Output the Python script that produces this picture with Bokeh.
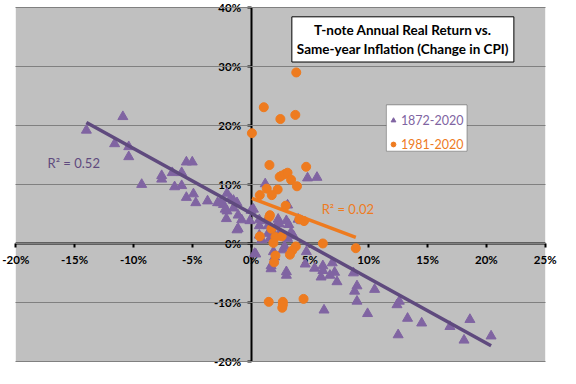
from bokeh.plotting import figure
from bokeh.models import (Range1d, Label, Legend, LegendItem, FixedTicker,
                          PrintfTickFormatter, BoxAnnotation)
from bokeh.embed import file_html
from bokeh.resources import INLINE

# ---------------- data (percent) ----------------
x_1872 = [-14.0, -10.9, -11.6, -10.4, -10.4, -9.3, -7.6, -7.6, -6.7, -5.9,
          -6.5, -5.9, -5.5, -5.0, -5.5, -4.9, -4.7, -3.7, -2.85, -2.35,
          -2.2, -2.05, -2.1, -2.05, -1.75, -1.5, -1.2, -1.2, -0.8, -0.1,
          0.0, 0.3, 0.7, 0.7, 0.7, 0.9, 1.2, 1.3, 1.45, 1.45,
          1.6, 1.7, 1.7, 1.9, 2.0, 2.3, 2.4, 2.4, 2.7, 2.85,
          3.0, 3.2, 3.1, 3.0, 3.0, 3.1, 3.4, 4.0, 4.3, 4.7,
          4.6, 4.8, 5.6, 5.4, 6.1, 6.1, 5.95, 6.7, 6.9, 7.1,
          7.3, 6.2, 8.7, 9.0, 8.8, 9.0, 9.9, 10.5, 12.4, 12.6,
          12.5, 13.3, 14.5, 16.9, 18.1, 18.6, 20.4, 2.0, 0.4, -1.1,
          -1.1, -2.6, -1.5, 0.2, 2.1, 3.6]
y_1872 = [19.2, 21.5, 16.9, 16.4, 14.7, 10.0, 11.5, 10.9, 12.0, 12.0,
          9.6, 9.8, 13.8, 13.8, 7.8, 8.4, 6.9, 7.2, 6.9, 6.6,
          5.8, 5.5, 4.2, 8.5, 7.6, 6.0, 6.9, 2.3, 4.0, 3.85,
          5.6, -1.7, 4.0, 3.0, 1.4, 0.6, 10.1, 3.85, 3.0, 1.7,
          0.85, -3.8, -4.3, -1.4, 1.4, 4.1, 3.3, 1.7, -1.1, -0.5,
          3.85, 3.2, 6.5, -4.8, -5.4, 0.85, 1.9, 4.1, 3.85, -1.4,
          -3.5, 11.1, 11.2, -4.2, -3.8, -4.6, -5.7, -5.4, -3.3, -4.9,
          -6.5, -11.3, -5.0, -7.2, -8.1, -9.8, -11.9, -7.8, -10.4, -9.8,
          -15.5, -12.7, -13.5, -14.1, -16.4, -12.9, -15.7, -2.3, -1.8, 4.8,
          2.5, 6.9, 7.3, 5.8, 2.8, 1.3]

x_1981 = [1.08, 2.49, 3.76, 0.07, 3.84, 1.56, 4.68, 2.43, 2.6, 2.9,
          3.1, 3.4, 3.9, 1.33, 2.26, 1.76, 0.74, 2.94, 1.6, 1.55,
          4.1, 4.5, 1.73, 0.74, 2.07, 2.6, 1.9, 6.1, 8.9, 3.8,
          3.5, 3.3, 2.07, 1.96, 1.5, 2.7, 2.7, 2.65, 4.46]
y_1981 = [23.1, 21.1, 21.8, 18.7, 29.0, 13.3, 13.0, 11.3, 11.5, 11.8,
          12.0, 10.8, 9.7, 9.3, 9.15, 8.2, 8.2, 6.4, 4.8, 4.5,
          4.1, 3.8, 2.5, 1.2, 1.1, 1.2, 0.1, 0.0, -0.8, -0.5,
          -1.2, -1.9, -2.05, -3.2, -9.9, -9.9, -10.4, -10.9, -9.4]

series_names = ["1872-2020", "1981-2020"]
trend_slope = [-1.10, -0.75]
trend_intercept = [5.1, 7.7]
r2_text = ["R\u00b2 = 0.52", "R\u00b2 = 0.02"]
x_ticks = [-20, -15, -10, -5, 0, 5, 10, 15, 20, 25]
y_ticks = [-20, -10, 0, 10, 20, 30, 40]
title_text = "T-note Annual Real Return vs.\nSame-year Inflation (Change in CPI)"

# ---------------- styling ----------------
PURPLE = "#8064A2"
PURPLE_DARK = "#5F4A7E"
ORANGE = "#EE7B1F"
FONT = "Lato"

W, H = 560, 368
XR = (-21.3, 26.3)
YR = (-21.2, 41.2)

p = figure(width=W, height=H,
           x_range=Range1d(*XR), y_range=Range1d(*YR),
           output_backend="svg", toolbar_location=None,
           min_border_left=0, min_border_right=0,
           min_border_top=0, min_border_bottom=0,
           background_fill_color="white", border_fill_color="white",
           outline_line_color=None)

# grey plot area covering exactly the axis extents
p.add_layout(BoxAnnotation(left=x_ticks[0], right=x_ticks[-1],
                           bottom=y_ticks[0], top=y_ticks[-1],
                           fill_color="#C0C0C0", fill_alpha=1,
                           line_color=None, level="image"))

p.xgrid.visible = False
g = p.ygrid[0]
g.ticker = FixedTicker(ticks=y_ticks)
g.grid_line_color = "#808080"
g.grid_line_width = 1
if "cross_bounds" in g.properties():
    g.cross_bounds = (x_ticks[0], x_ticks[-1])

for ax, ticks in ((p.xaxis, x_ticks), (p.yaxis, y_ticks)):
    ax.fixed_location = 0
    ax.bounds = (ticks[0], ticks[-1])
    ax.ticker = FixedTicker(ticks=ticks)
    ax.formatter = PrintfTickFormatter(format="%d%%")
    ax.axis_line_color = "black"
    ax.axis_line_width = 2
    ax.major_tick_line_color = "black"
    ax.major_tick_line_width = 2
    ax.major_tick_in = 0
    ax.major_tick_out = 4
    ax.minor_tick_line_color = None
    ax.major_label_text_font = FONT
    ax.major_label_text_font_style = "bold"
    ax.major_label_text_font_size = "11.5px"
    ax.major_label_text_color = "black"
    ax.major_label_standoff = 6
    ax.level = "underlay"

# ---------------- glyphs ----------------
r_tri = p.scatter(x_1872, y_1872, marker="triangle", size=10,
                  fill_color=PURPLE, line_color=PURPLE)
r_circ = p.scatter(x_1981, y_1981, marker="circle", size=9,
                   fill_color=ORANGE, line_color=ORANGE)

# trendlines spanning each series' x range
for xs, m, b, c in ((x_1872, trend_slope[0], trend_intercept[0], PURPLE_DARK),
                    (x_1981, trend_slope[1], trend_intercept[1], ORANGE)):
    x0, x1 = min(xs), max(xs)
    p.line([x0, x1], [m * x0 + b, m * x1 + b], line_color=c, line_width=3.5)

# R^2 labels
p.add_layout(Label(x=-17.3, y=13.7, text=r2_text[0], text_baseline="middle",
                   text_color=PURPLE_DARK, text_font=FONT,
                   text_font_size="13px"))
p.add_layout(Label(x=6.0, y=5.8, text=r2_text[1], text_baseline="middle",
                   text_color=ORANGE, text_font=FONT, text_font_size="13px"))

# title box
p.add_layout(Label(x=12.9, y=34.6, text=title_text, text_align="center",
                   text_baseline="middle", text_font=FONT,
                   text_font_style="bold", text_font_size="13.5px",
                   text_color="black", background_fill_color="white",
                   border_line_color="black", border_line_width=1,
                   padding=5))

# legend: one white framed box, two single-entry legends inside it
LEG_L, LEG_R, LEG_T, LEG_B = 11.5, 18.35, 23.5, 15.65
p.add_layout(BoxAnnotation(left=LEG_L, right=LEG_R, top=LEG_T, bottom=LEG_B,
                           fill_color="white", fill_alpha=1,
                           line_color="black", line_width=1))

fw = W  # frame width (no borders)
fh = H
sx = fw / (XR[1] - XR[0])
sy = fh / (YR[1] - YR[0])
leg_x = (LEG_L - XR[0]) * sx + 1
top_px = (LEG_T - YR[0]) * sy
PAD, GH = 3, 18
for i, (name, rend, col) in enumerate(((series_names[0], r_tri, PURPLE),
                                       (series_names[1], r_circ, ORANGE))):
    bottom = top_px - 13 - GH / 2 - PAD - 24 * i
    p.add_layout(Legend(items=[LegendItem(label=name, renderers=[rend])],
                        location=(leg_x, bottom), margin=0, padding=PAD,
                        glyph_width=12, glyph_height=GH, label_height=GH,
                        label_standoff=2, label_text_font=FONT,
                        label_text_font_size="12.5px", label_text_color=col,
                        border_line_color=None, background_fill_alpha=0))

open("out.html", "w").write(file_html(p, INLINE))
